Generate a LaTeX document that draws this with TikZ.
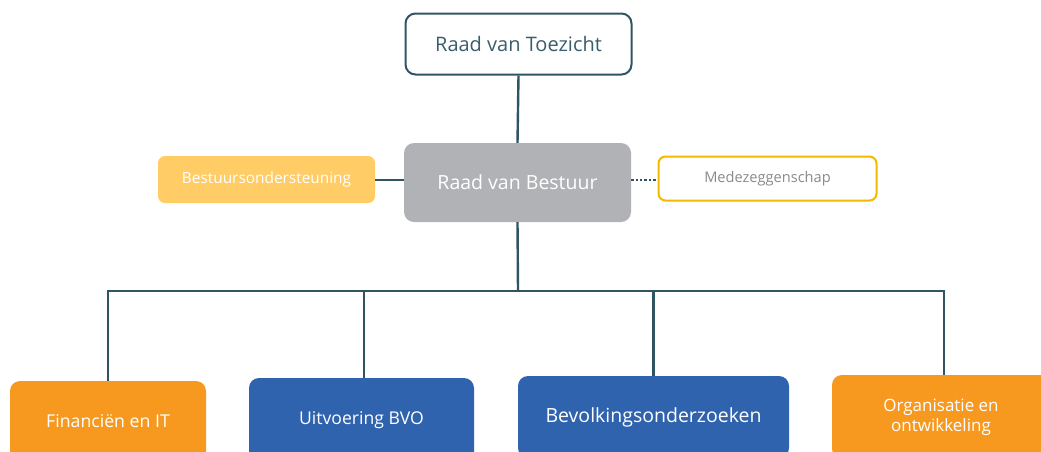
\documentclass[tikz,border=0pt]{standalone}
\usepackage{fontspec}
\setmainfont{Open Sans}
\definecolor{linec}{HTML}{2F5563}
\definecolor{txtc}{HTML}{3A5D6C}
\definecolor{grayc}{HTML}{B1B2B5}
\definecolor{ylight}{HTML}{FFCC66}
\definecolor{yborder}{HTML}{F5B800}
\definecolor{orangec}{HTML}{F7991F}
\definecolor{bluec}{HTML}{3063AE}
\definecolor{medtxt}{HTML}{8A8A8A}
\begin{document}
\begin{tikzpicture}[x=1pt,y=-1pt,
  box/.style={rectangle,rounded corners=10pt,inner sep=0pt,align=center},
  conn/.style={draw=linec,line width=2.4pt},
  lbl/.style={font=\fontsize{#1}{#1}\selectfont}]
\useasboundingbox (0,0) rectangle (1041,451);
\clip (0,0) rectangle (1041,451);
\node[box,draw=linec,line width=2pt,fill=white,minimum width=226pt,minimum height=61pt,text=txtc,lbl=20]
  (rvt) at (518.5,44) {Raad van Toezicht};
\node[box,fill=grayc,minimum width=227pt,minimum height=79pt,text=white,lbl=19.5]
  (rvb) at (517.5,182.5) {Raad van Bestuur};
\node[box,rounded corners=7pt,fill=ylight,minimum width=217pt,minimum height=47pt,text=white,lbl=15.4]
  (bos) at (266.5,179.5) {Bestuursondersteuning};
\node[box,rounded corners=7pt,draw=yborder,line width=2pt,fill=white,minimum width=218pt,minimum height=44pt,text=medtxt,lbl=14.6]
  (mzs) at (767.5,178.5) {Medezeggenschap};
\node[box,fill=orangec,minimum width=196pt,minimum height=80pt,text=white,lbl=17.7]
  (fin) at (108,421) {Financiën en IT};
\node[box,fill=bluec,minimum width=225pt,minimum height=84pt,text=white,lbl=17.6]
  (uit) at (361.5,420) {Uitvoering BVO};
\node[box,fill=bluec,minimum width=271pt,minimum height=82pt,text=white,lbl=19.5]
  (bev) at (653.5,417) {Bevolkingsonderzoeken};
\node[box,fill=orangec,minimum width=218pt,minimum height=84pt,text=white,font=\fontsize{17}{20}\selectfont]
  (org) at (941,417) {Organisatie en\\ontwikkeling};
\coordinate (busL) at (108,291);
\coordinate (busR) at (944,291);
\coordinate (busM) at (518,291);
\draw[conn] (rvt.south) -- (rvb.north);
\draw[conn] (bos.east |- 0,180) -- (rvb.west |- 0,180);
\draw[draw=linec,line width=2.4pt,dotted] (rvb.east |- 0,180) -- (mzs.west |- 0,180);
\draw[conn] (rvb.south) -- (busM);
\draw[conn] (fin.north) -- (busL) -- (busR) -- (org.north -| busR);
\draw[conn] (uit.north -| 364,0) -- (364,291);
\draw[conn] (bev.north) -- (bev.north |- busM);
\end{tikzpicture}
\end{document}
